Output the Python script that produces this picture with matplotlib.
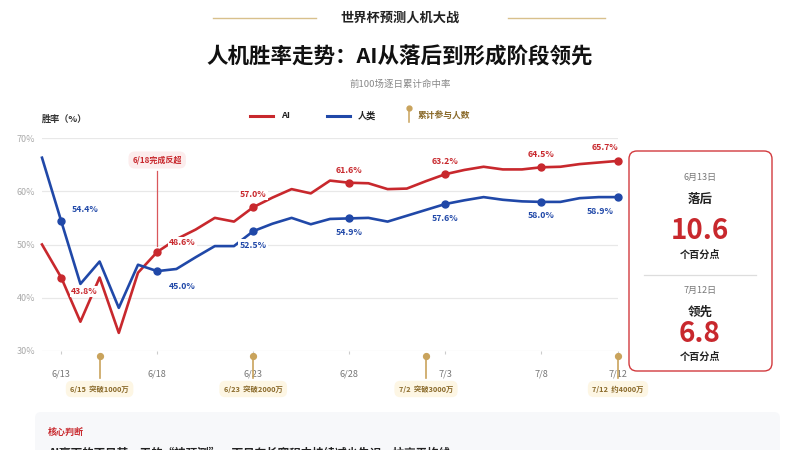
import matplotlib
matplotlib.use("Agg")
import matplotlib.pyplot as plt
from matplotlib.patches import FancyBboxPatch
from matplotlib.transforms import blended_transform_factory
from matplotlib.lines import Line2D

plt.rcParams['font.family'] = ['Noto Sans CJK SC', 'DejaVu Sans']

# ---------------- data ----------------
dates = ['6/12', '6/13', '6/14', '6/15', '6/16', '6/17', '6/18', '6/19', '6/20', '6/21',
         '6/22', '6/23', '6/24', '6/25', '6/26', '6/27', '6/28', '6/29', '6/30', '7/1',
         '7/2', '7/3', '7/4', '7/5', '7/6', '7/7', '7/8', '7/9', '7/10', '7/11', '7/12']
ai = [50.0, 43.8, 35.5, 43.8, 33.4, 44.7, 48.6, 51.0, 52.8, 55.0,
      54.3, 57.0, 58.8, 60.4, 59.6, 62.0, 61.6, 61.5, 60.4, 60.5,
      61.9, 63.2, 64.0, 64.6, 64.1, 64.1, 64.5, 64.6, 65.1, 65.4, 65.7]
human = [66.3, 54.4, 42.6, 46.8, 38.1, 46.2, 45.0, 45.4, 47.6, 49.7,
         49.7, 52.5, 53.9, 55.0, 53.8, 54.8, 54.9, 55.0, 54.3, 55.4,
         56.5, 57.6, 58.3, 58.9, 58.4, 58.1, 58.0, 58.0, 58.7, 58.9, 58.9]
tick_dates = ['6/13', '6/18', '6/23', '6/28', '7/3', '7/8', '7/12']
marked_dates = ['6/13', '6/18', '6/23', '6/28', '7/3', '7/8', '7/12']
milestone_dates = ['6/15', '6/23', '7/2', '7/12']
milestone_labels = ['6/15  突破1000万', '6/23  突破2000万', '7/2  突破3000万', '7/12  约4000万']
y_ticks = [30, 40, 50, 60, 70]

RED = '#C8282D'
BLUE = '#2048A8'
GOLD = '#C9A35C'
GOLD_TXT = '#8A6A2A'

fig = plt.figure(figsize=(8, 4.5), dpi=100)
fig.patch.set_facecolor('white')

# overlay axes in pixel coords
ov = fig.add_axes([0, 0, 1, 1], zorder=0)
ov.set_xlim(0, 800)
ov.set_ylim(450, 0)
ov.axis('off')

# main axes
ax = fig.add_axes([42 / 800, 99 / 450, 576 / 800, 213 / 450], zorder=2)
ax.set_facecolor('none')
x = list(range(len(dates)))
ax.set_xlim(0, len(dates) - 1)
ax.set_ylim(30, 70)
for s in ax.spines.values():
    s.set_visible(False)
ax.set_yticks(y_ticks)
ax.set_yticklabels([f'{v}%' for v in y_ticks], fontsize=6.5, color='#AAAAAA')
ax.tick_params(axis='y', length=0, pad=5)
ax.yaxis.grid(True, color='#E8E8E8', lw=0.9)
ax.set_axisbelow(True)
ax.set_xticks([dates.index(d) for d in tick_dates])
ax.set_xticklabels(tick_dates, fontsize=6.6, color='#777777')
ax.tick_params(axis='x', length=2.5, color='#CCCCCC', pad=11)

ax.plot(x, ai, color=RED, lw=1.9, clip_on=False, zorder=3, solid_joinstyle='round')
ax.plot(x, human, color=BLUE, lw=1.9, clip_on=False, zorder=3, solid_joinstyle='round')
mi = [dates.index(d) for d in marked_dates]
ax.plot(mi, [ai[i] for i in mi], 'o', color=RED, ms=5, clip_on=False, zorder=4)
ax.plot(mi, [human[i] for i in mi], 'o', color=BLUE, ms=5, clip_on=False, zorder=4)

# data labels: (dx px, dy px) offsets
lab_ai = {'6/13': (23, 14), '6/18': (25, -9), '6/23': (0, -13), '6/28': (0, -12),
          '7/3': (0, -13), '7/8': (0, -13), '7/12': (-13, -13)}
lab_hu = {'6/13': (24, -12), '6/18': (25, 15), '6/23': (0, 14), '6/28': (0, 14),
          '7/3': (0, 14), '7/8': (0, 14), '7/12': (-18, 14)}
bb = dict(boxstyle='square,pad=0.15', fc='white', ec='none')
for d, (dx, dy) in lab_ai.items():
    i = dates.index(d)
    ax.annotate(f'{ai[i]:.1f}%', (i, ai[i]), xytext=(dx * 0.72, -dy * 0.72),
                textcoords='offset points', ha='center', va='center', fontsize=6.3,
                color=RED, fontweight='bold', bbox=bb, zorder=5, annotation_clip=False)
for d, (dx, dy) in lab_hu.items():
    i = dates.index(d)
    ax.annotate(f'{human[i]:.1f}%', (i, human[i]), xytext=(dx * 0.72, -dy * 0.72),
                textcoords='offset points', ha='center', va='center', fontsize=6.3,
                color=BLUE, fontweight='bold', bbox=bb, zorder=5, annotation_clip=False)

# reversal annotation
ri = dates.index('6/18')
tr = blended_transform_factory(ax.transData, ov.transData)
ax.add_line(Line2D([ri, ri], [171, 246], transform=tr, color='#D9575B', lw=0.9,
                   clip_on=False, zorder=2))
ax.text(ri, 160, '6/18完成反超', transform=tr, ha='center', va='center', fontsize=5.8,
        color=RED, fontweight='bold', zorder=6,
        bbox=dict(boxstyle='round,pad=0.5,rounding_size=0.8', fc='#FCEDED', ec='none'))

# milestones
for d, lbl in zip(milestone_dates, milestone_labels):
    i = dates.index(d)
    ax.add_line(Line2D([i, i], [356, 378], transform=tr, color=GOLD, lw=1.2,
                       clip_on=False, zorder=3))
    ax.plot([i], [356], 'o', transform=tr, color=GOLD, ms=4.2, clip_on=False, zorder=4)
    ax.text(i, 389, lbl, transform=tr, ha='center', va='center', fontsize=5.3,
            color=GOLD_TXT, fontweight='bold', zorder=5,
            bbox=dict(boxstyle='round,pad=0.6,rounding_size=0.8', fc='#FDF6E4', ec='none'))

# ---------------- header ----------------
ov.text(400, 18, '世界杯预测人机大战', ha='center', va='center', fontsize=9.5,
        fontweight='bold', color='#222222')
ov.plot([213, 316], [18, 18], color='#D8C08C', lw=1.0)
ov.plot([508, 605], [18, 18], color='#D8C08C', lw=1.0)
ov.text(400, 57, '人机胜率走势：AI从落后到形成阶段领先', ha='center', va='center',
        fontsize=15.5, fontweight='bold', color='#111111')
ov.text(400, 84, '前100场逐日累计命中率', ha='center', va='center', fontsize=6.8,
        color='#888888')

# legend
ov.plot([250, 273], [116, 116], color=RED, lw=2.2)
ov.text(281, 116, 'AI', ha='left', va='center', fontsize=6.6, fontweight='bold', color='#222222')
ov.plot([327, 350], [116, 116], color=BLUE, lw=2.2)
ov.text(358, 116, '人类', ha='left', va='center', fontsize=6.6, fontweight='bold', color='#222222')
ov.plot([409, 409], [108, 122], color=GOLD, lw=1.1)
ov.plot([409], [108], 'o', color=GOLD, ms=3.5)
ov.text(418, 116, '累计参与人数', ha='left', va='center', fontsize=6.3, fontweight='bold',
        color=GOLD_TXT)

ov.text(42, 119, '胜率（%）', ha='left', va='center', fontsize=6.6, fontweight='bold',
        color='#333333')

# ---------------- right panel ----------------
ov.add_patch(FancyBboxPatch((629, 151), 143, 220,
                            boxstyle='round,pad=0,rounding_size=8',
                            fc='white', ec='#D23A3E', lw=1.0, zorder=3))
cx = 700
ov.text(cx, 177, '6月13日', ha='center', va='center', fontsize=6.5, color='#777777', zorder=4)
ov.text(cx, 199, '落后', ha='center', va='center', fontsize=9, fontweight='bold',
        color='#222222', zorder=4)
ov.text(cx, 231, '10.6', ha='center', va='center', fontsize=20, fontweight='bold',
        color=RED, zorder=4)
ov.text(cx, 255, '个百分点', ha='center', va='center', fontsize=7.3, fontweight='bold',
        color='#222222', zorder=4)
ov.plot([644, 756], [275, 275], color='#DDDDDD', lw=0.9, zorder=4)
ov.text(cx, 290, '7月12日', ha='center', va='center', fontsize=6.5, color='#777777', zorder=4)
ov.text(cx, 312, '领先', ha='center', va='center', fontsize=9, fontweight='bold',
        color='#222222', zorder=4)
ov.text(cx, 334, '6.8', ha='center', va='center', fontsize=20, fontweight='bold',
        color=RED, zorder=4)
ov.text(cx, 357, '个百分点', ha='center', va='center', fontsize=7.3, fontweight='bold',
        color='#222222', zorder=4)

# ---------------- bottom panel ----------------
ov.add_patch(FancyBboxPatch((35, 412), 745, 60, boxstyle='round,pad=0,rounding_size=6',
                            fc='#F7F8FA', ec='none', zorder=1))
ov.text(48, 432, '核心判断', ha='left', va='center', fontsize=6.5, fontweight='bold',
        color=RED, zorder=2)
ov.text(48, 453, 'AI赢下的不是某一天的“神预测”，而是在长赛程中持续减少失误，拉高平均线',
        ha='left', va='center', fontsize=8.3, fontweight='bold', color='#222222', zorder=2)

fig.savefig('out.png', dpi=100, facecolor='white')
